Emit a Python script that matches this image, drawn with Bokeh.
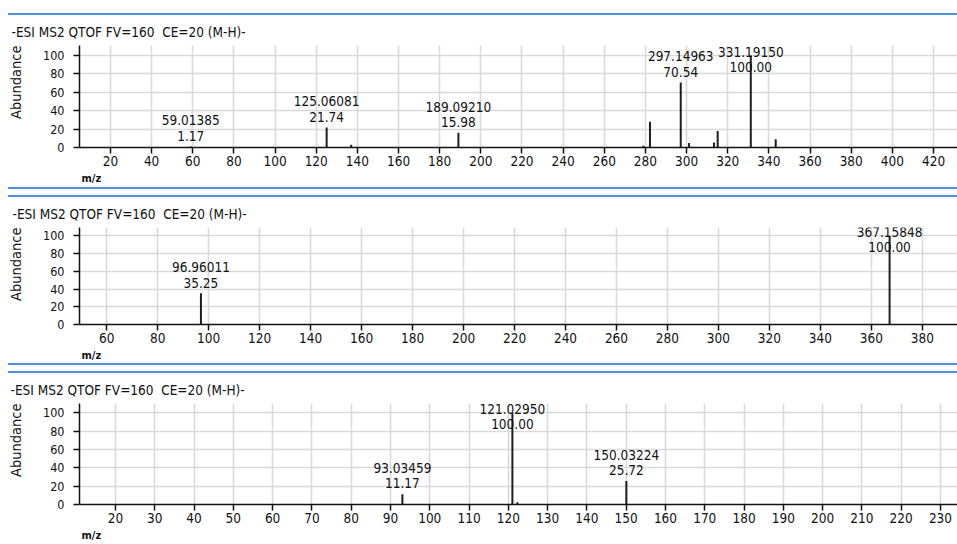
from bokeh.plotting import figure
from bokeh.models import Range1d, FixedTicker, Div, ColumnDataSource, Title
from bokeh.layouts import column
from bokeh.core.properties import value
from bokeh.embed import file_html
from bokeh.resources import INLINE

# ---------------- data ----------------
title_text = "-ESI MS2 QTOF FV=160\u00a0 CE=20 (M-H)-"
x_label = "m/z"
y_label = "Abundance"
y_ticks = [0, 20, 40, 60, 80, 100]

# panel 1
mz1 = [59.01385, 125.06081, 137.0, 189.09210, 279.0, 282.2, 297.14963, 301.2, 313.3, 315.1, 331.19150, 343.3]
ab1 = [1.17, 21.74, 3.0, 15.98, 2.0, 28.0, 70.54, 5.0, 5.5, 18.0, 100.00, 9.0]
lab1 = [True, True, False, True, False, False, True, False, False, False, True, False]
xticks1 = [20, 40, 60, 80, 100, 120, 140, 160, 180, 200, 220, 240, 260, 280, 300, 320, 340, 360, 380, 400, 420]

# panel 2
mz2 = [96.96011, 367.15848]
ab2 = [35.25, 100.00]
lab2 = [True, True]
xticks2 = [60, 80, 100, 120, 140, 160, 180, 200, 220, 240, 260, 280, 300, 320, 340, 360, 380]

# panel 3
mz3 = [93.03459, 121.02950, 122.3, 150.03224]
ab3 = [11.17, 100.00, 2.5, 25.72]
lab3 = [True, True, False, True]
xticks3 = [20, 30, 40, 50, 60, 70, 80, 90, 100, 110, 120, 130, 140, 150, 160, 170, 180, 190, 200, 210, 220, 230]

# ---------------- style ----------------
W = 957
FONT = "DejaVu Sans Condensed"
BLUE = "#4d93db"
GRID = "#d9d9d9"
BAR = "#1e1e1e"
INK = "#111111"


def blue_line(top_margin):
    return Div(text="", width=W - 8, height=2, margin=(top_margin, 0, 0, 8),
               styles={"background-color": BLUE})


def panel(mz, ab, lab, xticks, xr, ytop, height, left, top, bottom):
    p = figure(width=W, height=height, x_range=Range1d(*xr), y_range=Range1d(0, ytop),
               output_backend="svg", toolbar_location=None,
               min_border_left=left, min_border_right=0, min_border_top=top, min_border_bottom=bottom)
    p.outline_line_color = None
    p.background_fill_color = "white"
    p.border_fill_color = "white"

    xt = FixedTicker(ticks=xticks)
    yt = FixedTicker(ticks=y_ticks)
    p.xaxis.ticker = xt
    p.yaxis.ticker = yt
    p.xgrid.ticker = xt
    p.ygrid.ticker = yt
    for g in (p.xgrid, p.ygrid):
        g.grid_line_color = GRID
        g.grid_line_width = 1.6

    for ax in (p.xaxis, p.yaxis):
        ax.axis_line_color = INK
        ax.axis_line_width = 1.5
        ax.major_tick_line_color = INK
        ax.major_tick_line_width = 1.5
        ax.major_tick_out = 6
        ax.major_tick_in = 0
        ax.minor_tick_line_color = None
        ax.major_label_text_font = FONT
        ax.major_label_text_color = INK
    p.xaxis.major_label_text_font_size = "13.5px"
    p.xaxis.major_label_standoff = 2
    p.yaxis.major_label_text_font_size = "12.5px"
    p.yaxis.major_label_standoff = 9

    src = ColumnDataSource(dict(x=mz, y0=[0] * len(mz), y1=ab))
    p.segment(x0="x", y0="y0", x1="x", y1="y1", source=src, line_color=BAR, line_width=2)

    lx = [m for m, f in zip(mz, lab) if f]
    la = [a for a, f in zip(ab, lab) if f]
    ly = [min(a + 3.0, 78.5) for a in la]
    lt = [f"{m:.5f}\n{a:.2f}" for m, a in zip(lx, la)]
    p.text(x=lx, y=ly, text=lt, text_align="center", text_baseline="bottom",
           text_font=value(FONT), text_font_size="13.5px", text_line_height=0.97, text_color=INK)

    # panel title (top-left)
    p.title.text = title_text
    p.title.align = "left"
    p.title.offset = -(left - 10)
    p.title.text_font = FONT
    p.title.text_font_size = "13.5px"
    p.title.text_font_style = "normal"
    p.title.text_color = INK
    p.title.standoff = 12

    # spacer between y tick labels and the y label
    p.add_layout(Title(text=" ", text_font_size="1px", standoff=7), "left")
    # y label
    p.add_layout(Title(text=y_label, align="right", vertical_align="top", text_font=FONT,
                       text_font_size="14.5px", text_font_style="normal", text_color=INK,
                       standoff=10), "left")
    # x label
    p.add_layout(Title(text=x_label, align="left", offset=2, text_font=FONT, text_font_size="11px",
                       text_font_style="bold", text_color=INK, standoff=3), "below")
    return p


p1 = panel(mz1, ab1, lab1, xticks1, (4.95, 431.65), 110.9, 172, 78, 30, 40)
p2 = panel(mz2, ab2, lab2, xticks2, (49.31, 393.8), 109.6, 166, 77, 29, 38)
p3 = panel(mz3, ab3, lab3, xticks3, (10.84, 234.33), 110, 170, 79, 30, 37)

layout = column(blue_line(13), p1, blue_line(0), blue_line(6), p2, blue_line(0), blue_line(6), p3,
                spacing=0)

open("out.html", "w").write(file_html(layout, INLINE))
